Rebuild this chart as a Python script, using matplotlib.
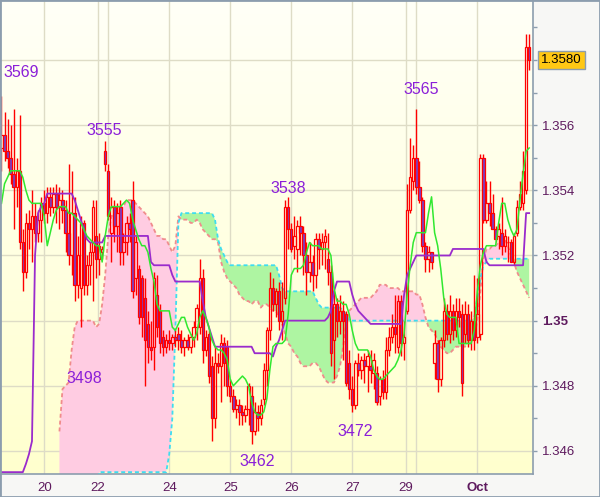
"""Hourly candles with Ichimoku lines and cloud, 19 Sep - 1 Oct."""

import matplotlib
matplotlib.use("Agg")
import matplotlib.pyplot as plt
import numpy as np
from matplotlib.patches import Rectangle

# Prices are written as the last four digits: 3569 means 1.3569.
OPEN = [
    3553, 3557, 3552, 3550, 3545, 3541, 3546, 3524, 3515, 3530,
    3528, 3532, 3527, 3531, 3536, 3533, 3538, 3535, 3539, 3535,
    3537, 3534, 3527, 3520, 3533, 3511, 3510, 3530, 3511, 3517,
    3521, 3526, 3519, 3521, 3552, 3546, 3527, 3535, 3529, 3535,
    3521, 3524, 3530, 3537, 3513, 3516, 3513, 3507, 3499, 3492,
    3492, 3508, 3503, 3495, 3492, 3494, 3493, 3495, 3496, 3494,
    3492, 3494, 3492, 3495, 3498, 3498, 3513, 3491, 3496, 3486,
    3470, 3487, 3486, 3493, 3492, 3480, 3477, 3473, 3474, 3472,
    3471, 3473, 3477, 3466, 3472, 3470, 3476, 3485, 3497, 3510,
    3505, 3509, 3500, 3507, 3535, 3528, 3523, 3522, 3529, 3527,
    3520, 3515, 3518, 3514, 3525, 3522, 3524, 3519, 3515, 3494,
    3505, 3500, 3503, 3502, 3487, 3479, 3474, 3487, 3485, 3488,
    3486, 3486, 3484, 3484, 3477, 3482, 3478, 3491, 3495, 3498,
    3492, 3506, 3493, 3503, 3534, 3543, 3550, 3541, 3537, 3523,
    3519, 3521, 3487, 3493, 3482, 3494, 3503, 3496, 3503, 3497,
    3503, 3502, 3496, 3502, 3494, 3500, 3495, 3496, 3550, 3531,
    3536, 3533, 3528, 3526, 3527, 3523, 3524, 3524, 3518, 3527,
    3535, 3536, 3540, 3584,
]
HIGH = [
    3569, 3564, 3562, 3560, 3565, 3550, 3563, 3528, 3533, 3534,
    3540, 3536, 3534, 3538, 3540, 3541, 3541, 3541, 3542, 3541,
    3540, 3537, 3548, 3546, 3538, 3526, 3532, 3531, 3520, 3524,
    3537, 3537, 3527, 3523, 3555, 3548, 3538, 3537, 3536, 3537,
    3527, 3532, 3533, 3543, 3526, 3517, 3514, 3513, 3503, 3500,
    3515, 3514, 3505, 3497, 3496, 3497, 3496, 3497, 3498, 3497,
    3495, 3496, 3496, 3500, 3505, 3519, 3516, 3497, 3497, 3489,
    3492, 3490, 3496, 3495, 3494, 3482, 3479, 3476, 3476, 3474,
    3474, 3481, 3480, 3475, 3474, 3476, 3487, 3498, 3515, 3513,
    3510, 3512, 3512, 3537, 3538, 3530, 3532, 3531, 3532, 3529,
    3524, 3524, 3520, 3527, 3527, 3527, 3528, 3527, 3517, 3509,
    3507, 3508, 3506, 3503, 3491, 3483, 3488, 3490, 3489, 3490,
    3491, 3491, 3490, 3486, 3483, 3485, 3495, 3498, 3502, 3508,
    3508, 3508, 3500, 3542, 3556, 3554, 3565, 3549, 3538, 3524,
    3523, 3521, 3497, 3494, 3495, 3507, 3505, 3508, 3505, 3507,
    3507, 3505, 3506, 3505, 3503, 3514, 3513, 3551, 3551, 3543,
    3543, 3539, 3529, 3530, 3538, 3528, 3526, 3525, 3527, 3537,
    3543, 3552, 3588, 3588,
]
LOW = [
    3546, 3549, 3547, 3542, 3528, 3535, 3522, 3509, 3513, 3522,
    3518, 3524, 3524, 3524, 3530, 3530, 3532, 3533, 3530, 3528,
    3530, 3521, 3517, 3514, 3506, 3507, 3498, 3508, 3508, 3511,
    3506, 3513, 3514, 3519, 3546, 3531, 3518, 3524, 3521, 3517,
    3517, 3520, 3524, 3507, 3508, 3499, 3495, 3480, 3487, 3488,
    3485, 3495, 3490, 3489, 3490, 3491, 3491, 3492, 3491, 3490,
    3489, 3491, 3490, 3492, 3494, 3496, 3487, 3489, 3481, 3463,
    3467, 3484, 3475, 3480, 3477, 3475, 3472, 3470, 3468, 3468,
    3469, 3468, 3462, 3465, 3466, 3468, 3474, 3480, 3494, 3503,
    3501, 3497, 3494, 3505, 3522, 3521, 3519, 3515, 3520, 3514,
    3508, 3512, 3509, 3510, 3516, 3517, 3516, 3511, 3486, 3482,
    3495, 3496, 3488, 3480, 3476, 3472, 3473, 3483, 3482, 3481,
    3478, 3481, 3479, 3474, 3474, 3476, 3476, 3489, 3493, 3490,
    3490, 3489, 3488, 3502, 3533, 3540, 3539, 3536, 3521, 3515,
    3515, 3516, 3482, 3478, 3480, 3492, 3494, 3493, 3494, 3495,
    3498, 3477, 3493, 3492, 3491, 3491, 3493, 3494, 3530, 3530,
    3529, 3528, 3524, 3522, 3520, 3521, 3518, 3518, 3517, 3526,
    3534, 3534, 3539, 3577,
]
CLOSE = [
    3557, 3552, 3550, 3545, 3541, 3546, 3524, 3515, 3530, 3528,
    3532, 3527, 3531, 3536, 3533, 3538, 3535, 3539, 3535, 3537,
    3534, 3527, 3520, 3533, 3511, 3520, 3530, 3511, 3517, 3521,
    3535, 3519, 3523, 3522, 3548, 3532, 3535, 3529, 3533, 3521,
    3524, 3530, 3528, 3509, 3524, 3501, 3501, 3494, 3492, 3491,
    3513, 3498, 3493, 3492, 3494, 3493, 3495, 3494, 3494, 3492,
    3494, 3492, 3495, 3498, 3504, 3513, 3491, 3495, 3483, 3470,
    3487, 3486, 3493, 3487, 3480, 3477, 3473, 3474, 3472, 3471,
    3473, 3480, 3466, 3472, 3470, 3474, 3485, 3497, 3510, 3505,
    3509, 3500, 3503, 3535, 3528, 3522, 3526, 3529, 3527, 3520,
    3515, 3518, 3514, 3525, 3522, 3524, 3526, 3515, 3490, 3505,
    3500, 3503, 3500, 3481, 3479, 3474, 3487, 3485, 3488, 3486,
    3489, 3485, 3488, 3475, 3482, 3478, 3491, 3495, 3498, 3496,
    3506, 3493, 3495, 3534, 3544, 3550, 3541, 3537, 3523, 3519,
    3521, 3518, 3493, 3482, 3494, 3503, 3496, 3503, 3497, 3503,
    3501, 3481, 3502, 3494, 3500, 3494, 3502, 3550, 3531, 3536,
    3533, 3528, 3525, 3528, 3523, 3526, 3524, 3518, 3526, 3535,
    3539, 3546, 3584, 3580,
]

# Ichimoku lines, one value per candle
TENKAN = [
    3536, 3542, 3544, 3546, 3546, 3546, 3546, 3544, 3540, 3537,
    3536, 3536, 3536, 3536, 3532, 3523, 3527, 3531, 3534, 3535,
    3535, 3535, 3533, 3533, 3532, 3531, 3530, 3528, 3526, 3525,
    3524, 3523, 3523, 3518, 3526, 3532, 3535, 3535, 3535, 3535,
    3536, 3537, 3536, 3531, 3528, 3525, 3523, 3523, 3521, 3516,
    3512, 3505, 3503, 3503, 3503, 3503, 3498, 3497, 3499, 3501,
    3501, 3498, 3496, 3494, 3496, 3501, 3503, 3501, 3498, 3494,
    3492, 3491, 3491, 3490, 3488, 3482, 3480, 3481, 3482, 3483,
    3482, 3480, 3475, 3472, 3471, 3471, 3472, 3476, 3485, 3492,
    3493, 3493, 3493, 3494, 3502, 3514, 3516, 3516, 3516, 3517,
    3521, 3524, 3523, 3523, 3523, 3522, 3522, 3522, 3520, 3510,
    3506, 3506, 3505, 3505, 3502, 3497, 3493, 3491, 3491, 3491,
    3491, 3489, 3485, 3483, 3482, 3482, 3483, 3484, 3485, 3486,
    3488, 3491, 3496, 3508, 3517, 3524, 3527, 3527, 3527, 3527,
    3533, 3538, 3527, 3523, 3516, 3507, 3502, 3501, 3501, 3501,
    3493, 3493, 3493, 3493, 3493, 3497, 3509, 3517, 3521, 3523,
    3523, 3523, 3523, 3530, 3536, 3536, 3531, 3528, 3526, 3528,
    3537, 3545, 3552, 3553,
]
KIJUN = [
    3453.5, 3453.5, 3453.5, 3453.5, 3453.5, 3453.5, 3453.5, 3453.5, 3456, 3459,
    3463, 3520, 3533, 3535, 3536, 3539, 3539, 3539, 3539, 3539,
    3539, 3539, 3539, 3539, 3537, 3534, 3531, 3528, 3525, 3524,
    3524, 3524, 3524, 3524, 3526, 3526, 3526, 3526, 3526, 3526,
    3526, 3526, 3526, 3526, 3526, 3526, 3526, 3526, 3526, 3518,
    3517, 3517, 3517, 3517, 3517, 3517, 3514, 3512, 3512, 3512,
    3512, 3512, 3512, 3512, 3512, 3512, 3506, 3501, 3498, 3495,
    3492, 3492, 3492, 3492, 3492, 3492, 3492, 3492, 3492, 3492,
    3492, 3492, 3492, 3490, 3490, 3490, 3490, 3490, 3490, 3489,
    3492, 3494, 3497, 3500, 3500, 3500, 3500, 3500, 3500, 3500,
    3500, 3500, 3500, 3500, 3500, 3500, 3500, 3501, 3503, 3509,
    3512, 3512, 3512, 3512, 3512, 3508, 3505, 3503, 3502, 3501,
    3500, 3499, 3499, 3499, 3499, 3499, 3499, 3499, 3499, 3499,
    3499, 3499, 3508, 3514, 3516, 3518, 3520, 3520, 3520, 3520,
    3520, 3520, 3520, 3520, 3520, 3520, 3520, 3520, 3522, 3522,
    3522, 3522, 3522, 3522, 3522, 3522, 3522, 3522, 3522, 3518,
    3517, 3517, 3517, 3517, 3517, 3517, 3517, 3517, 3517, 3517,
    3517, 3517, 3533, 3533,
]
SPAN_A = [
    None, None, None, None, None, None, None, None, None, None,
    None, None, None, None, None, None, None, None, None, 3440,
    3440, 3440, 3440, 3440, 3440, 3440, 3440, 3440, 3440, 3440,
    3440, 3440, 3453.5, 3453.5, 3453.5, 3453.5, 3453.5, 3453.5, 3453.5, 3453.5,
    3453.5, 3453.5, 3453.5, 3453.5, 3453.5, 3453.5, 3453.5, 3453.5, 3453.5, 3453.5,
    3453.5, 3453.5, 3453.5, 3453.5, 3453.5, 3459, 3470, 3497, 3530, 3533,
    3533, 3533, 3533, 3533, 3533, 3533, 3533, 3533, 3533, 3533,
    3531, 3525, 3522, 3520, 3518, 3517, 3517, 3517, 3517, 3517,
    3517, 3517, 3517, 3517, 3517, 3517, 3517, 3517, 3517, 3517,
    3517, 3514, 3510, 3509, 3509, 3509, 3509, 3509, 3509, 3509,
    3509, 3509, 3509, 3507, 3505, 3504, 3504, 3504, 3504, 3504,
    3504, 3504, 3503, 3502, 3500, 3500, 3500, 3500, 3500, 3500,
    3500, 3500, 3500, 3500, 3500, 3500, 3500, 3500, 3500, 3500,
    3500, 3500, 3500, 3500, 3500, 3500, 3500, 3500, 3500, 3500,
    3500, 3500, 3500, 3500, 3500, 3500, 3500, 3500, 3500, 3500,
    3500, 3500, 3500, 3500, 3500, 3501, 3507, 3513, 3517, 3518,
    3519, 3519, 3519, 3519, 3519, 3519, 3519, 3519, 3519, 3519,
    3519, 3519, 3519, 3519,
]
SPAN_B = [
    None, None, None, None, None, None, None, None, None, None,
    None, None, None, None, None, None, None, None, None, 3466,
    3479, 3480, 3481, 3491, 3498, 3500, 3500, 3500, 3500, 3500,
    3500, 3498, 3499, 3505, 3514, 3526, 3532, 3533, 3534, 3535,
    3535, 3537, 3537, 3537, 3536, 3535, 3534, 3533, 3532, 3530,
    3528, 3526, 3526, 3525, 3525, 3523, 3521, 3523, 3532, 3531,
    3531, 3531, 3530, 3530, 3531, 3530, 3528, 3527, 3526, 3525,
    3525, 3524, 3518, 3515, 3513, 3512, 3511, 3510, 3508, 3507,
    3506, 3506, 3505, 3506, 3506, 3504, 3505, 3505, 3504, 3503,
    3503, 3501, 3499, 3496, 3493, 3492, 3490, 3489, 3487, 3486,
    3486, 3486, 3487, 3487, 3486, 3484, 3482, 3481, 3481, 3481,
    3483, 3486, 3492, 3499, 3503, 3504, 3505, 3506, 3507, 3507,
    3507, 3507, 3508, 3509, 3511, 3511, 3511, 3510, 3510, 3510,
    3510, 3509, 3509, 3509, 3509, 3509, 3508, 3508, 3505, 3501,
    3498, 3497, 3496, 3494, 3492, 3491, 3490, 3490, 3491, 3492,
    3492, 3492, 3492, 3493, 3493, 3495, 3500, 3509, 3519, 3522,
    3522, 3523, 3523, 3524, 3524, 3525, 3523, 3520, 3518, 3515,
    3513, 3511, 3509, 3507,
]

# candle positions of the dates on the time axis
DAY_TICKS = [14, 31.5, 55, 75, 95, 115, 132.5, 156]
DAY_LABELS = ["20", "22", "24", "25", "26", "27", "29", "Oct"]
EXTRA_DAY_LINES = [35, 136]
PRICE_TICKS = [1.346, 1.348, 1.350, 1.352, 1.354, 1.356, 1.358]
PRICE_LABELS = ["1.346", "1.348", "1.35", "1.352", "1.354", "1.356", ""]
MINOR_TICKS = [1.347, 1.349, 1.351, 1.353, 1.355, 1.357, 1.359]

# swing highs / lows that carry a label: candle index and which end
SWING_INDEX = [0, 34, 94, 136, 26, 82, 115]
SWING_SIDE = ["high", "high", "high", "high", "low", "low", "low"]

TEXT_COLOR = "#5E1A5E"
LABEL_COLOR = "#8B1FD8"
FRAME_COLOR = "#8C9DAE"


def to_price(values):
    return 1 + np.array(values, dtype=float) / 10000


def main():
    plt.rcParams["font.family"] = ["Liberation Sans", "DejaVu Sans"]

    o, h, l, c = (to_price(v) for v in (OPEN, HIGH, LOW, CLOSE))
    tenkan, kijun = to_price(TENKAN), to_price(KIJUN)
    span_a, span_b = to_price(SPAN_A), to_price(SPAN_B)
    x = np.arange(len(c))

    fig = plt.figure(figsize=(6, 4.97), dpi=100, facecolor="#F7F7F5")
    ax = fig.add_axes([1 / 600, 23 / 497, 532 / 600, 473 / 497])
    xlim = (-0.16, 174.26)
    ylim = (1.345293, 1.359811)

    # pale yellow gradient background
    top = np.array([255, 255, 247]) / 255
    bottom = np.array([255, 255, 206]) / 255
    t = np.linspace(0, 1, 256)[:, None, None]
    grad = top * (1 - t) + bottom * t
    ax.imshow(grad, extent=[*xlim, *ylim], aspect="auto", zorder=0)

    for p in PRICE_TICKS:
        ax.axhline(p, color="#DEDCC6", lw=1, zorder=1)
    for d in DAY_TICKS + EXTRA_DAY_LINES:
        ax.axvline(d, color="#DEDCC6", lw=1, zorder=1)

    # cloud
    ax.fill_between(x, span_a, span_b, where=span_b >= span_a, interpolate=True,
                    color="#FFCCE2", lw=0, zorder=2)
    ax.fill_between(x, span_a, span_b, where=span_a > span_b, interpolate=True,
                    color="#AEF5A2", lw=0, zorder=2)
    ax.plot(x, span_b, color="#F08C8C", lw=1.3, ls=(0, (2.2, 1.6)), zorder=3)
    ax.plot(x, span_a, color="#3EDDF0", lw=1.3, ls=(0, (2.2, 1.6)), zorder=3)

    # candles
    body_top = np.maximum(o, c)
    body_bot = np.minimum(o, c)
    ax.vlines(x, body_top, h, color="#FF0000", lw=1.0, zorder=4)
    ax.vlines(x, l, body_bot, color="#FF0000", lw=1.0, zorder=4)
    face = ["none" if cl >= op else "#7A3EC6" for op, cl in zip(o, c)]
    ax.bar(x, body_top - body_bot, bottom=body_bot, width=0.8, color=face,
           edgecolor="#FF0000", linewidth=0.9, zorder=4)

    ax.plot(x, kijun, color="#9A2BCC", lw=1.3, zorder=5)
    ax.plot(x, tenkan, color="#30E830", lw=1.1, zorder=6)

    # swing labels
    offsets = [(1.5, 23), (-1, 10.5), (0, 8), (4.5, 19), (4, -51), (5.5, -17), (3, -20)]
    for (i, side), (dx, dy) in zip(zip(SWING_INDEX, SWING_SIDE), offsets):
        value = HIGH[i] if side == "high" else LOW[i]
        price = h[i] if side == "high" else l[i]
        ax.annotate(f"{value:.0f}", xy=(i, price), xytext=(dx, dy),
                    textcoords="offset pixels", ha="left" if i == 0 else "center",
                    va="center", fontsize=11.5, color=LABEL_COLOR, zorder=7)

    ax.yaxis.tick_right()
    ax.set_yticks(PRICE_TICKS, PRICE_LABELS)
    ax.set_yticks(MINOR_TICKS, minor=True)
    ax.tick_params(axis="y", which="both", length=3, width=1, color=FRAME_COLOR,
                   pad=3.3, labelsize=9.5, labelcolor=TEXT_COLOR)
    for lab in ax.get_yticklabels():
        if lab.get_text() == "1.35":
            lab.set_fontweight("bold")

    ax.set_xticks(DAY_TICKS, DAY_LABELS)
    ax.tick_params(axis="x", length=0, pad=6, labelsize=9.5, labelcolor=TEXT_COLOR)
    for lab in ax.get_xticklabels():
        if lab.get_text() == "Oct":
            lab.set_fontweight("bold")

    # limits last, after the ticks are set
    ax.set_xlim(*xlim)
    ax.set_ylim(*ylim)

    for side in ("top", "left"):
        ax.spines[side].set_visible(False)
    for side in ("right", "bottom"):
        ax.spines[side].set_color(FRAME_COLOR)
        ax.spines[side].set_linewidth(1.2)

    # last price tag
    ax.annotate(f"{c[-1]:.4f}", xy=(1, c[-1]), xycoords=("axes fraction", "data"),
                xytext=(8, 0), textcoords="offset pixels", ha="left", va="center",
                fontsize=9.5, color="black", annotation_clip=False,
                bbox=dict(boxstyle="square,pad=0.25", fc="#FFC814", ec=FRAME_COLOR, lw=1))

    fig.add_artist(Rectangle((0, 0), 1, 1, transform=fig.transFigure, fill=False,
                             ec=FRAME_COLOR, lw=2))

    fig.savefig("out.png", dpi=100, facecolor=fig.get_facecolor())


if __name__ == "__main__":
    main()
